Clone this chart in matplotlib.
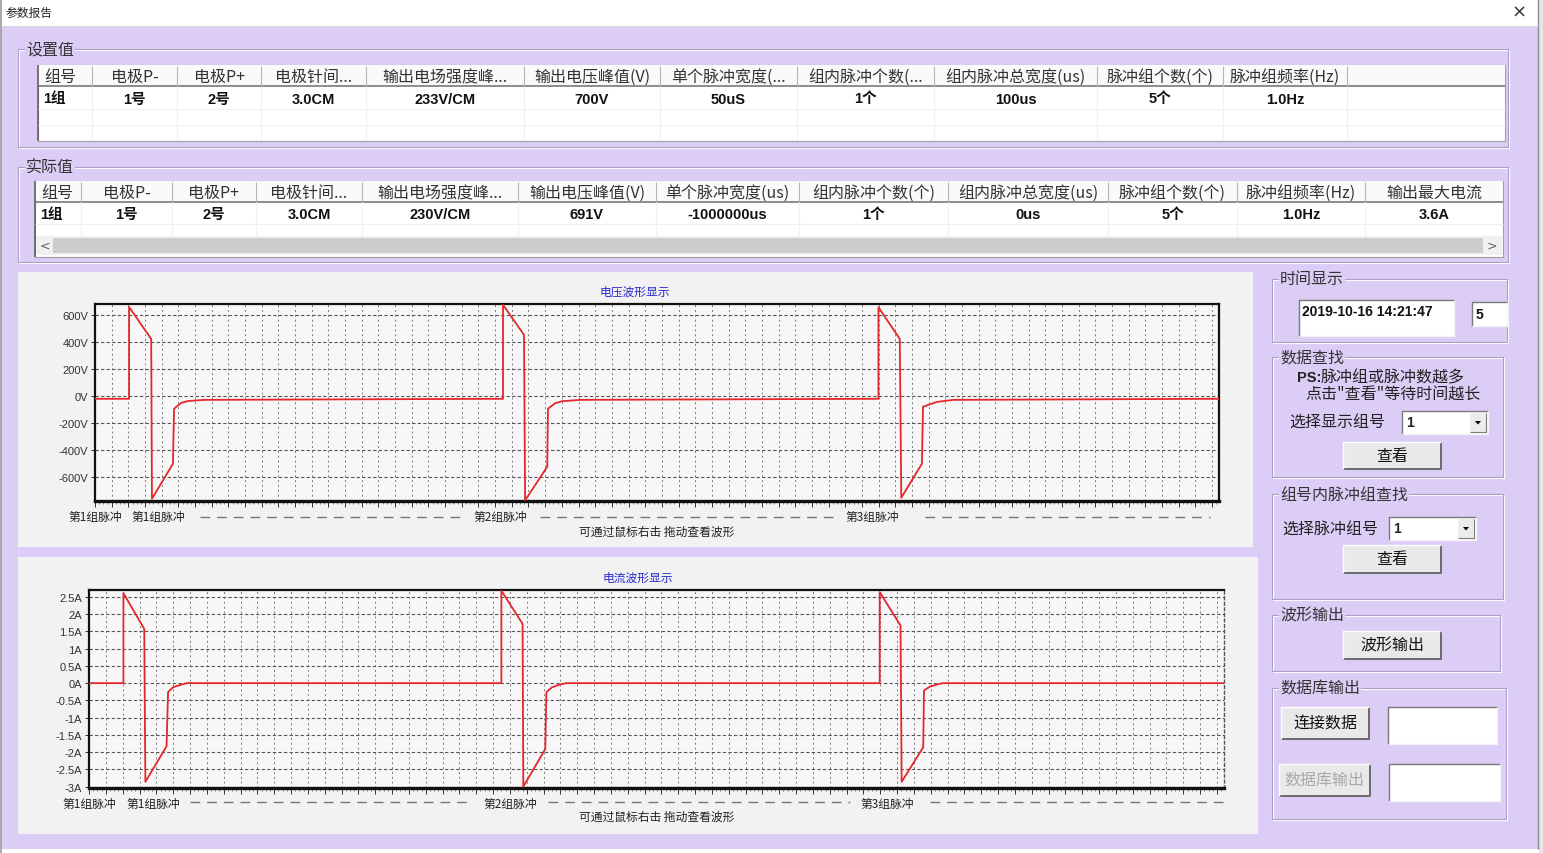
import matplotlib
matplotlib.use('Agg')
import matplotlib.pyplot as plt
from matplotlib.patches import Rectangle, Polygon
from matplotlib import font_manager
import numpy as np

plt.rcParams['font.family'] = ['Noto Sans CJK SC', 'DejaVu Sans']

# ---------------- data ----------------
set_headers = ['组号', '电极P-', '电极P+', '电极针间...', '输出电场强度峰...', '输出电压峰值(V)',
               '单个脉冲宽度(...', '组内脉冲个数(...', '组内脉冲总宽度(us)', '脉冲组个数(个)', '脉冲组频率(Hz)']
set_values = ['1组', '1号', '2号', '3.0CM', '233V/CM', '700V', '50uS', '1个', '100us', '5个', '1.0Hz']

act_headers = ['组号', '电极P-', '电极P+', '电极针间...', '输出电场强度峰...', '输出电压峰值(V)',
               '单个脉冲宽度(us)', '组内脉冲个数(个)', '组内脉冲总宽度(us)', '脉冲组个数(个)',
               '脉冲组频率(Hz)', '输出最大电流']
act_values = ['1组', '1号', '2号', '3.0CM', '230V/CM', '691V', '-1000000us', '1个', '0us', '5个', '1.0Hz', '3.6A']

# voltage waveform (time in ms, volts)
volt_t = [0, 91, 91, 150, 152, 208, 211, 230, 248, 291,
          1089, 1089, 1145, 1148, 1207, 1209, 1228, 1247, 1295,
          2091, 2091, 2148, 2152, 2207, 2210, 2247, 2291,
          3000]
volt_v = [-22, -22, 659, 422, -763, -504, -96, -52, -39, -30,
          -22, 675, 452, -775, -526, -96, -55, -40, -30,
          -22, 657, 422, -756, -504, -81, -45, -30,
          -22]

# current waveform (time in ms, amps)
curr_t = [0, 91, 91, 146, 149, 205, 209, 222, 242, 258,
          1090, 1090, 1146, 1148, 1206, 1209, 1224, 1242, 1261,
          2090, 2090, 2145, 2148, 2205, 2207, 2223, 2241, 2257,
          3000]
curr_a = [0, 0, 2.61, 1.57, -2.86, -1.83, -0.26, -0.12, -0.05, 0,
          0, 2.68, 1.72, -3.0, -1.91, -0.26, -0.12, -0.05, 0,
          0, 2.64, 1.67, -2.86, -1.86, -0.21, -0.10, -0.04, 0,
          0]

volt_ticks = [600, 400, 200, 0, -200, -400, -600]
volt_labels = ['600V', '400V', '200V', '0V', '-200V', '-400V', '-600V']
curr_ticks = [2.5, 2, 1.5, 1, 0.5, 0, -0.5, -1, -1.5, -2, -2.5, -3]
curr_labels = ['2.5A', '2A', '1.5A', '1A', '0.5A', '0A', '-0.5A', '-1A', '-1.5A', '-2A', '-2.5A', '-3A']

group_labels = ['第1组脉冲', '第1组脉冲', '第2组脉冲', '第3组脉冲']
volt_group_pos = [0, 168, 1081, 2074]
curr_group_pos = [0, 169, 1113, 2109]

# ---------------- layout (pixels) ----------------
W, H = 1543, 854
LAV = '#DCCDF6'
set_cols = [38, 92, 177, 261, 366, 524, 660, 797, 934, 1097, 1223, 1347, 1505]
act_cols = [35, 81, 172, 256, 362, 518, 656, 799, 948, 1108, 1237, 1365, 1503]


def pick(name, alt):
    try:
        font_manager.findfont(name, fallback_to_default=False)
        return name
    except Exception:
        return alt


NARROW = pick('Liberation Sans Narrow', 'Liberation Sans')
VAL_FONT = [NARROW, 'Noto Sans CJK SC']
CJK = ['Noto Sans CJK SC', 'DejaVu Sans']

fig = plt.figure(figsize=(W / 100, H / 100), dpi=100)
fig.patch.set_facecolor('white')
bg = fig.add_axes([0, 0, 1, 1], zorder=0)
bg.set_xlim(0, W)
bg.set_ylim(H, 0)
bg.axis('off')


def rect(x0, y0, x1, y1, fc='none', ec='none', lw=1, z=1):
    bg.add_patch(Rectangle((x0, y0), x1 - x0, y1 - y0, fc=fc, ec=ec, lw=lw, zorder=z))


def line(xs, ys, c, lw=0.8, z=2, ls='-'):
    bg.plot(xs, ys, color=c, lw=lw, zorder=z, ls=ls, solid_capstyle='butt')


def txt(x, y, s, size=11.5, ha='left', va='center', color='#222222', weight='normal', family=None, z=5):
    bg.text(x, y, s, fontsize=size, ha=ha, va=va, color=color, weight=weight,
            family=family if family else CJK, zorder=z)


def groupbox(x0, y0, x1, y1, title):
    rect(x0 + 1, y0 + 1, x1 + 1, y1 + 1, ec='#FFFFFF', lw=0.8, z=1)
    rect(x0, y0, x1, y1, ec='#A99FBE', lw=0.8, z=1)
    bg.text(x0 + 8, y0, title, fontsize=11.5, ha='left', va='center', color='#333333', family=CJK,
            zorder=3, bbox=dict(fc=LAV, ec='none', pad=0.5))


def button(x0, y0, x1, y1, label, color='#111111'):
    rect(x0, y0, x1, y1, fc='#E9E9E9', z=2)
    line([x0, x1, x1], [y1, y1, y0], '#6A6A6A', lw=1.4, z=3)
    line([x0, x0, x1], [y1, y0, y0], '#FFFFFF', lw=1.0, z=3)
    txt((x0 + x1) / 2, (y0 + y1) / 2, label, size=11.5, ha='center', color=color)


def textbox(x0, y0, x1, y1):
    rect(x0, y0, x1, y1, fc='white', z=2)
    line([x0, x0, x1], [y1, y0, y0], '#7A7A7A', lw=1.0, z=3)
    line([x0, x1, x1], [y1, y1, y0], '#F4F4F4', lw=1.0, z=3)


def combo(x0, y0, x1, y1):
    textbox(x0, y0, x1, y1)
    rect(x1 - 18, y0 + 2, x1 - 2, y1 - 2, fc='#ECECEC', z=3)
    line([x1 - 18, x1 - 2, x1 - 2], [y1 - 2, y1 - 2, y0 + 2], '#7A7A7A', lw=0.8, z=4)
    cx, cy = x1 - 10, (y0 + y1) / 2
    bg.add_patch(Polygon([[cx - 3, cy - 1.5], [cx + 3, cy - 1.5], [cx, cy + 2]], fc='black', ec='none', zorder=5))
    txt(x0 + 4, (y0 + y1) / 2, '1', size=10, weight='bold', family=['Liberation Sans'])


def table(x0, x1, ytop, yhead, yrow, ybot, cols, headers, values):
    rect(x0, ytop, x1, ybot, fc='white', ec='#A0A0A0', lw=0.8, z=1)
    rect(x0, ytop, x1, yhead, fc='#FAFAFA', z=1)
    line([x0, x1], [yhead, yhead], '#8C8C8C', lw=1.4, z=2)
    line([x0, x0], [ytop, ybot], '#606060', lw=1.2, z=2)
    for c in cols[1:-1]:
        line([c, c], [ytop + 1, yhead], '#B5B5B5', lw=0.8)
        line([c, c], [yhead, ybot - 2], '#F0F0F0', lw=0.8)
    for i, h in enumerate(headers):
        a, b = cols[i], cols[i + 1]
        if i == 0:
            txt(a + 6, (ytop + yhead) / 2 + 1, h, size=11.5, color='#333333')
        else:
            txt((a + b) / 2, (ytop + yhead) / 2 + 1, h, size=11.5, ha='center', color='#333333')
    for i, v in enumerate(values):
        a, b = cols[i], cols[i + 1]
        if i == 0:
            txt(a + 5, (yhead + yrow) / 2 + 1, v, size=10.5, weight='bold', family=VAL_FONT, color='#111111')
        else:
            txt((a + b) / 2, (yhead + yrow) / 2 + 1, v, size=10.5, ha='center', weight='bold',
                family=VAL_FONT, color='#111111')
    line([x0, x1], [yrow, yrow], '#F0F0F0', lw=0.8)


# window chrome
rect(0, 0, W, H, fc='white', z=0)
rect(2, 27, 1538, 850, fc=LAV, z=0)
line([1538, 1538], [0, 850], '#8A8A8A', lw=1.0, z=1)
rect(1539, 0, W, H, fc='#E6E6E6', z=0)
line([1, 1], [0, H], '#9A9A9A', lw=1.2, z=1)
line([2, 1538], [27, 27], '#D8D8D8', lw=0.8, z=1)
txt(6, 13, '参数报告', size=8.5, color='#222222')
txt(1519, 13, '×', size=13, ha='center', color='#333333', family=['DejaVu Sans'])

# tables
groupbox(18, 50, 1508, 148, '设置值')
table(38, 1505, 66, 87, 110, 142, set_cols, set_headers, set_values)
line([38, 1505], [126, 126], '#F2F2F2', lw=0.8)

groupbox(18, 168, 1508, 263, '实际值')
table(35, 1503, 182, 203, 225, 258, act_cols, act_headers, act_values)
rect(36, 237, 1502, 256, fc='#F0F0F0', z=3)
rect(53, 239, 1483, 254, fc='#CDCDCD', z=4)
txt(45, 246, '<', size=9, ha='center', color='#606060', family=['DejaVu Sans'])
txt(1492, 246, '>', size=9, ha='center', color='#606060', family=['DejaVu Sans'])

# chart panels
rect(18, 273, 1253, 548, fc='#F2F2F2', z=0.5)
rect(18, 558, 1258, 835, fc='#F2F2F2', z=0.5)
txt(635, 292, '电压波形显示', size=8.5, ha='center', color='#2A2ACF')
txt(638, 578, '电流波形显示', size=8.5, ha='center', color='#2A2ACF')
txt(657, 532, '可通过鼠标右击 拖动查看波形', size=8.5, ha='center', color='#222222')
txt(657, 817, '可通过鼠标右击 拖动查看波形', size=8.5, ha='center', color='#222222')
for a, b in [(200, 460), (540, 835), (925, 1210)]:
    line([a, b], [518, 518], '#777777', lw=1.0, ls=(0, (7, 5)))
for a, b in [(190, 470), (548, 850), (930, 1225)]:
    line([a, b], [803, 803], '#777777', lw=1.0, ls=(0, (7, 5)))

# right side controls
groupbox(1272, 280, 1507, 343, '时间显示')
textbox(1299, 301, 1454, 337)
txt(1302, 312, '2019-10-16 14:21:47', size=10, weight='bold', family=['Liberation Sans'], color='#111111')
textbox(1472, 303, 1507, 327)
txt(1476, 315, '5', size=10, weight='bold', family=['Liberation Sans'], color='#111111')

groupbox(1272, 358, 1503, 478, '数据查找')
txt(1321, 378, 'PS:', size=10.5, ha='right', weight='bold', family=['Liberation Sans'])
txt(1321, 378, '脉冲组或脉冲数越多', size=11.5)
txt(1393, 395, '点击"查看"等待时间越长', size=11.5, ha='center')
txt(1289, 423, '选择显示组号', size=11.5)
combo(1402, 412, 1488, 435)
button(1343, 443, 1441, 470, '查看')

groupbox(1272, 495, 1503, 600, '组号内脉冲组查找')
txt(1282, 530, '选择脉冲组号', size=11.5)
combo(1389, 518, 1476, 541)
button(1343, 546, 1441, 574, '查看')

groupbox(1272, 616, 1500, 672, '波形输出')
button(1343, 632, 1441, 660, '波形输出')

groupbox(1272, 689, 1506, 820, '数据库输出')
button(1281, 708, 1369, 740, '连接数据')
textbox(1388, 708, 1497, 745)
button(1279, 765, 1370, 797, '数据库输出', color='#A8A8A8')
textbox(1389, 765, 1500, 802)


# ---------------- waveform charts ----------------
def chart(box, t, y, yticks, ylabels, ylim, gpos, right_dashed=False):
    x0, y0, x1, y1 = box
    ax = fig.add_axes([x0 / W, 1 - y1 / H, (x1 - x0) / W, (y1 - y0) / H], zorder=2)
    ax.set_facecolor('#F7F7F7')
    ax.plot(t, y, color='#E5262C', lw=1.3, zorder=3)
    ax.set_xlim(0, 3000)
    ax.set_ylim(*ylim)
    ax.set_yticks(yticks)
    ax.set_yticklabels(ylabels, fontsize=8, color='#333333', family=[NARROW])
    ax.set_xticks(np.arange(0, 3000, 44.5))
    ax.set_xticks(np.arange(0, 3000, 44.5 / 4), minor=True)
    ax.set_xticklabels([])
    ax.tick_params(axis='x', which='major', length=4, width=0.7, direction='out', color='#333333')
    ax.tick_params(axis='x', which='minor', length=2, width=0.5, direction='out', color='#555555')
    ax.tick_params(axis='y', length=3, width=0.7, direction='out', color='#333333', pad=2)
    ax.grid(axis='x', which='major', color='#7A7A7A', lw=0.7, ls=(0, (2, 3)))
    ax.grid(axis='y', color='#555555', lw=0.8, ls=(0, (3, 2)))
    for s in ['top', 'left', 'right']:
        ax.spines[s].set_linewidth(1.6)
        ax.spines[s].set_color('#111111')
    ax.spines['bottom'].set_linewidth(2.4)
    ax.spines['bottom'].set_color('#111111')
    if right_dashed:
        ax.spines['right'].set_linestyle((0, (2, 2)))
        ax.spines['right'].set_linewidth(1.0)
        ax.spines['right'].set_color('#555555')
    for lab, p in zip(group_labels, gpos):
        ax.annotate(lab, xy=(p, 0), xycoords=('data', 'axes fraction'), xytext=(0, -15),
                    textcoords='offset pixels', ha='center', va='center', fontsize=8.5,
                    color='#222222', family=CJK, annotation_clip=False)
    return ax


chart((95, 305, 1219, 502), volt_t, volt_v, volt_ticks, volt_labels, (-780, 681), volt_group_pos)
chart((89, 591, 1224, 789), curr_t, curr_a, curr_ticks, curr_labels, (-3.04, 2.70), curr_group_pos,
      right_dashed=True)

fig.savefig('out.png', dpi=100, facecolor='white')
